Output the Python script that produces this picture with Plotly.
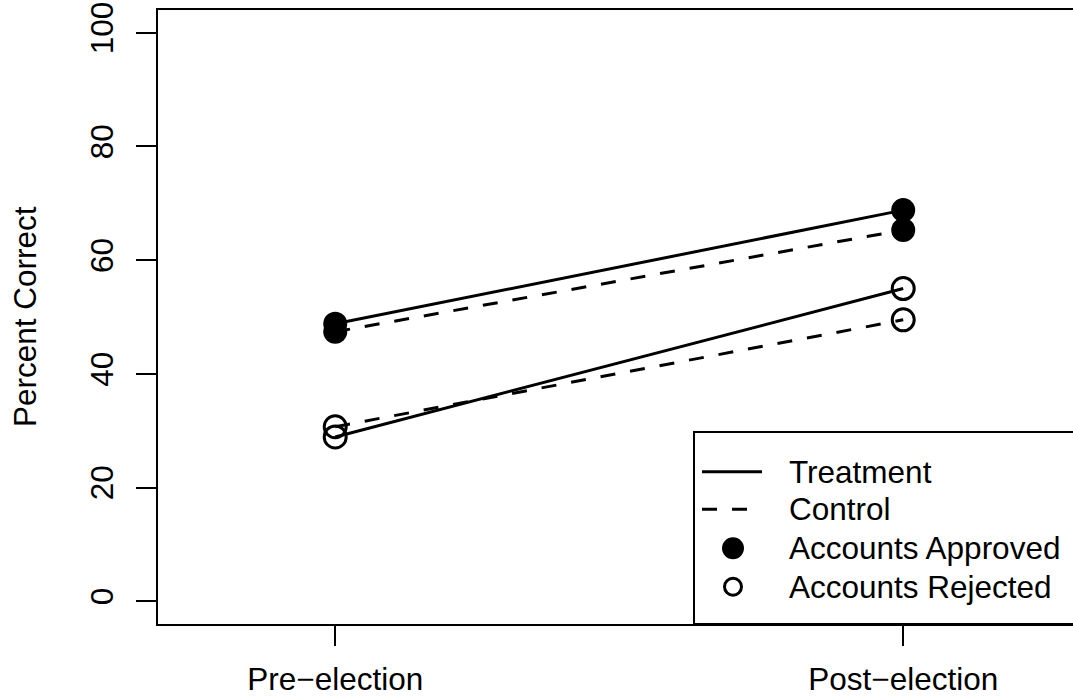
import plotly.graph_objects as go

# Survey waves and their positions on the x axis
categories = ["Pre\u2212election", "Post\u2212election"]
wave_pos = [1, 2]

# Percent correct by condition and account type
treat_approved = [48.8, 68.8]
ctrl_approved = [47.4, 65.3]
treat_rejected = [28.9, 55.0]
ctrl_rejected = [30.7, 49.5]

legend_labels = ["Treatment", "Control", "Accounts Approved", "Accounts Rejected"]

FONT = "Liberation Sans, Arial, Helvetica, sans-serif"
W, H = 1073, 700
ML, MR, MT, MB = 158, 0, 10, 76
PW, PH = W - ML - MR, H - MT - MB


def px_x(p):
    return (p - ML) / PW


def px_y(p):
    return (H - MB - p) / PH


fig = go.Figure()

series = [
    (treat_approved, "solid", "circle", 24, 0),
    (ctrl_approved, "15px,15px", "circle", 24, 0),
    (treat_rejected, "solid", "circle-open", 22, 3),
    (ctrl_rejected, "15px,15px", "circle-open", 22, 3),
]
for vals, dash, sym, size, lw in series:
    fig.add_trace(go.Scatter(
        x=wave_pos, y=vals, mode="lines+markers",
        line=dict(color="black", width=3, dash=dash),
        marker=dict(symbol=sym, size=size, color="black",
                    line=dict(color="black", width=lw)),
        showlegend=False, hoverinfo="skip",
    ))

# Legend box (runs off the right edge of the figure)
shapes = [dict(type="rect", xref="paper", yref="paper",
               x0=px_x(694), x1=1.2, y0=0, y1=px_y(432),
               line=dict(color="black", width=2), fillcolor="white", layer="below")]

rows_y = [471.7, 509.3, 548.3, 586.7]
x_a, x_b, x_c = px_x(702), px_x(762), px_x(733)
shapes.append(dict(type="line", xref="paper", yref="paper",
                   x0=x_a, x1=x_b, y0=px_y(rows_y[0]), y1=px_y(rows_y[0]),
                   line=dict(color="black", width=3)))
shapes.append(dict(type="line", xref="paper", yref="paper",
                   x0=x_a, x1=x_b, y0=px_y(rows_y[1]), y1=px_y(rows_y[1]),
                   line=dict(color="black", width=3, dash="15px,15px")))
r1 = 11
shapes.append(dict(type="circle", xref="paper", yref="paper",
                   x0=x_c - r1 / PW, x1=x_c + r1 / PW,
                   y0=px_y(rows_y[2]) - r1 / PH, y1=px_y(rows_y[2]) + r1 / PH,
                   fillcolor="black", line=dict(color="black", width=0)))
r2 = 8.5
shapes.append(dict(type="circle", xref="paper", yref="paper",
                   x0=x_c - r2 / PW, x1=x_c + r2 / PW,
                   y0=px_y(rows_y[3]) - r2 / PH, y1=px_y(rows_y[3]) + r2 / PH,
                   fillcolor="rgba(0,0,0,0)", line=dict(color="black", width=3)))

annotations = []
for lab, ry in zip(legend_labels, rows_y):
    annotations.append(dict(text=lab, xref="paper", yref="paper",
                            x=px_x(787), y=px_y(ry), xanchor="left", yanchor="middle",
                            showarrow=False, font=dict(family=FONT, size=31.5, color="black")))

annotations.append(dict(text="Percent Correct", xref="paper", yref="paper",
                        x=px_x(25), y=0.5, xanchor="center", yanchor="middle",
                        textangle=-90, showarrow=False,
                        font=dict(family=FONT, size=31.5, color="black")))

fig.update_layout(
    width=W, height=H,
    margin=dict(l=ML, r=MR, t=MT, b=MB, pad=0, autoexpand=False),
    paper_bgcolor="white", plot_bgcolor="white",
    font=dict(family=FONT, size=31.5, color="black"),
    shapes=shapes, annotations=annotations,
    xaxis=dict(range=[0.688, 0.688 + PW / 568.0], tickvals=wave_pos, ticktext=categories,
               showgrid=False, zeroline=False, showline=True, mirror=True, automargin=False,
               linecolor="black", linewidth=2, ticks="outside", ticklen=20,
               tickwidth=2, tickcolor="black", ticklabelstandoff=6),
    yaxis=dict(range=[-4, 104], tickvals=[0, 20, 40, 60, 80, 100],
               showgrid=False, zeroline=False, showline=True, mirror=False, automargin=False,
               linecolor="black", linewidth=2, ticks="outside", ticklen=20,
               tickwidth=2, tickcolor="black", tickangle=-90, ticklabelstandoff=10),
)

fig.write_html("out.html")
